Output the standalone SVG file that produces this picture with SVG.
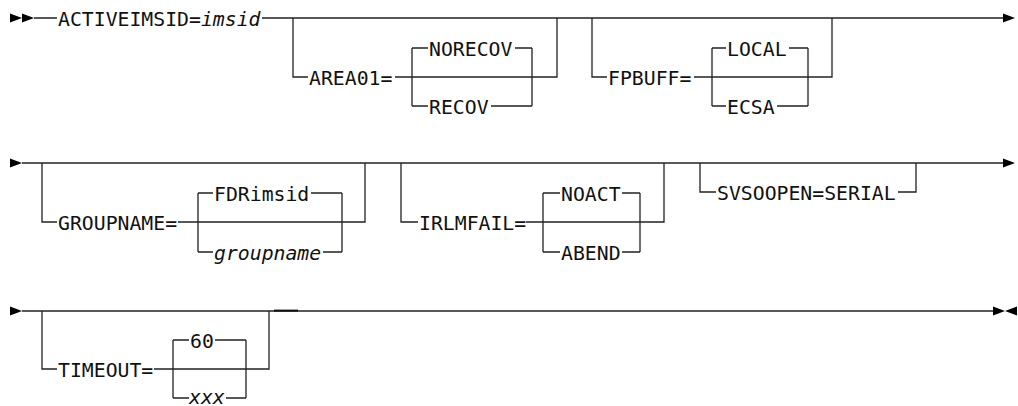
<svg xmlns="http://www.w3.org/2000/svg" width="1018" height="406" viewBox="0 0 1018 406">
<style>
.ln{fill:none;stroke:#222;stroke-width:1.3}
.ah{fill:#000}
text{font-family:"DejaVu Sans Mono","Liberation Mono",monospace;font-size:19.8px;fill:#111}
.v{font-style:italic}
</style>
<rect width="1018" height="406" fill="#fff"/>
<g id="connectors">
  <!-- Row 1 -->
  <path class="ln" d="M34 18H57M262 18H1004"/>
  <path class="ln" d="M293 18V77H308M395 77H557V18"/>
  <path class="ln" d="M412 48V106M532 48V106M412 48H428M515 48H532M412 106H428M491 106H532"/>
  <path class="ln" d="M592 18V77H607M694 77H832V18"/>
  <path class="ln" d="M712 48V106M808 48V106M712 48H726M789 48H808M712 106H726M777 106H808"/>
  <!-- Row 2 -->
  <path class="ln" d="M22 163H1004"/>
  <path class="ln" d="M42 163V222H57M178 222H365V163"/>
  <path class="ln" d="M198 193V252M342 193V252M198 193H213M311 193H342M198 252H213M323 252H342"/>
  <path class="ln" d="M401 163V222H418M526 222H664V163"/>
  <path class="ln" d="M543 193V252M640 193V252M543 193H560M622 193H640M543 252H560M622 252H640"/>
  <path class="ln" d="M700 163V192H716M898 192H916V163"/>
  <!-- Row 3 -->
  <path class="ln" d="M22 311H994"/>
  <path class="ln" d="M42 311V369H57M154 369H269V311"/>
  <path class="ln" d="M173 340V398M246 340V398M173 340H189M215 340H246M173 398H189M226 398H246"/>
  <path fill="none" stroke="#111" stroke-width="2" d="M274 310.6H298"/>
  <!-- arrowheads -->
  <polygon class="ah" points="10,13.5 22,18 10,22.5"/>
  <polygon class="ah" points="22,13.5 34,18 22,22.5"/>
  <polygon class="ah" points="1003,13.5 1015,18 1003,22.5"/>
  <polygon class="ah" points="10,158.5 22,163 10,167.5"/>
  <polygon class="ah" points="1003,158.5 1015,163 1003,167.5"/>
  <polygon class="ah" points="10,306.5 22,311 10,315.5"/>
  <polygon class="ah" points="993,306.5 1005,311 993,315.5"/>
  <polygon class="ah" points="1017,306.5 1005,311 1017,315.5"/>
</g>
<g id="activeimsid"><text x="58" y="25.5">ACTIVEIMSID=<tspan class="v">imsid</tspan></text></g>
<g id="area01"><text x="309" y="84.5">AREA01=</text></g>
<g id="norecov"><text x="429" y="55.5">NORECOV</text></g>
<g id="recov"><text x="429" y="113.5">RECOV</text></g>
<g id="fpbuff"><text x="608" y="84.5">FPBUFF=</text></g>
<g id="local"><text x="727" y="55.5">LOCAL</text></g>
<g id="ecsa"><text x="727" y="113.5">ECSA</text></g>
<g id="groupname"><text x="58" y="229.5">GROUPNAME=</text></g>
<g id="fdrimsid"><text x="214" y="200.5">FDRimsid</text></g>
<g id="groupname-var"><text class="v" x="214" y="259.5">groupname</text></g>
<g id="irlmfail"><text x="419" y="229.5">IRLMFAIL=</text></g>
<g id="noact"><text x="561" y="200.5">NOACT</text></g>
<g id="abend"><text x="561" y="259.5">ABEND</text></g>
<g id="svsoopen"><text x="717" y="199.5">SVSOOPEN=SERIAL</text></g>
<g id="timeout"><text x="58" y="376.5">TIMEOUT=</text></g>
<g id="t60"><text x="190" y="347.5">60</text></g>
<g id="txxx"><text class="v" x="189" y="404">xxx</text></g>
</svg>
